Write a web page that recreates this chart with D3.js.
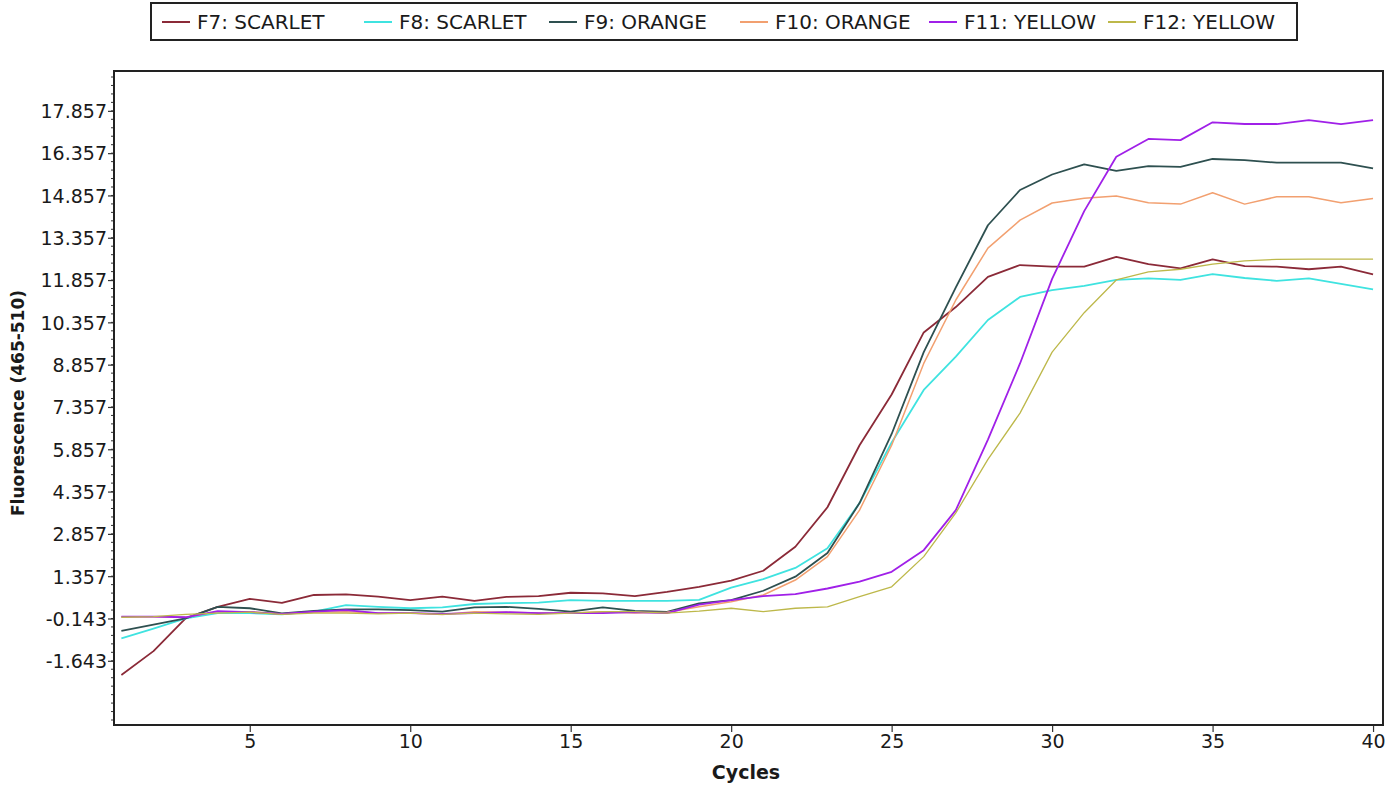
<!DOCTYPE html>
<html>
<head>
<meta charset="utf-8">
<script src="https://cdn.jsdelivr.net/npm/d3@7"></script>
<style>
  html, body { margin: 0; padding: 0; background: #ffffff; }
  svg { display: block; }
  text { font-family: "DejaVu Sans", "Liberation Sans", sans-serif; fill: #1a1a1a; }
</style>
</head>
<body>
<svg id="chart" width="1398" height="787"></svg>
<script>
// ---------- data ----------
const cycles = d3.range(1, 41);

const seriesNames = ["F7: SCARLET", "F8: SCARLET", "F9: ORANGE", "F10: ORANGE", "F11: YELLOW", "F12: YELLOW"];
const seriesColors = ["#8b2a38", "#3fe3e0", "#2e5050", "#f2a070", "#a020e8", "#bdb84a"];

const f7 = [-2.15, -1.30, -0.14, 0.27, 0.55, 0.41, 0.69, 0.71, 0.63, 0.51,
            0.63, 0.48, 0.62, 0.65, 0.77, 0.75, 0.65, 0.80, 0.98, 1.20,
            1.55, 2.40, 3.80, 6.00, 7.80, 10.00, 10.90, 11.97, 12.39, 12.33,
            12.33, 12.68, 12.42, 12.27, 12.59, 12.35, 12.33, 12.24, 12.33, 12.06];
const f8 = [-0.85, -0.50, -0.14, 0.05, 0.05, 0.00, 0.10, 0.33, 0.27, 0.22,
            0.25, 0.37, 0.40, 0.42, 0.51, 0.48, 0.48, 0.48, 0.52, 0.95,
            1.25, 1.65, 2.35, 3.95, 6.10, 7.96, 9.14, 10.44, 11.26, 11.50,
            11.65, 11.86, 11.92, 11.86, 12.07, 11.93, 11.83, 11.92, 11.72, 11.53];
const f9 = [-0.58, -0.36, -0.14, 0.27, 0.22, 0.04, 0.13, 0.18, 0.18, 0.15,
            0.10, 0.25, 0.27, 0.20, 0.10, 0.25, 0.13, 0.09, 0.39, 0.51,
            0.84, 1.34, 2.18, 3.95, 6.40, 9.30, 11.60, 13.80, 15.05, 15.60,
            15.96, 15.73, 15.90, 15.87, 16.15, 16.11, 16.02, 16.02, 16.02, 15.82];
const f10 = [-0.08, -0.08, -0.10, 0.10, 0.10, 0.02, 0.08, 0.10, 0.05, 0.05,
             0.00, 0.10, 0.08, 0.05, 0.05, 0.10, 0.05, 0.08, 0.27, 0.45,
             0.69, 1.22, 2.05, 3.70, 6.00, 8.90, 11.15, 12.99, 13.98, 14.59,
             14.76, 14.84, 14.60, 14.55, 14.95, 14.55, 14.81, 14.81, 14.60, 14.75];
const f11 = [-0.08, -0.08, -0.10, 0.12, 0.08, 0.02, 0.10, 0.15, 0.05, 0.05,
             0.02, 0.05, 0.08, 0.05, 0.05, 0.05, 0.08, 0.05, 0.35, 0.51,
             0.65, 0.72, 0.92, 1.16, 1.51, 2.28, 3.70, 6.20, 8.90, 11.90,
             14.30, 16.23, 16.86, 16.82, 17.45, 17.39, 17.39, 17.53, 17.39, 17.53];
const f12 = [-0.10, -0.08, 0.00, 0.05, 0.08, 0.00, 0.05, 0.05, 0.02, 0.05,
             0.00, 0.05, 0.02, 0.00, 0.05, 0.10, 0.10, 0.05, 0.12, 0.22,
             0.10, 0.22, 0.27, 0.63, 0.98, 2.05, 3.60, 5.50, 7.14, 9.30,
             10.70, 11.86, 12.15, 12.24, 12.42, 12.54, 12.59, 12.60, 12.60, 12.60];
const seriesValues = [f7, f8, f9, f10, f11, f12];

const xTicks = [5, 10, 15, 20, 25, 30, 35, 40];
const yTicks = [-1.643, -0.143, 1.357, 2.857, 4.357, 5.857, 7.357, 8.857, 10.357, 11.857, 13.357, 14.857, 16.357, 17.857];
const yTickLabels = ["-1.643", "-0.143", "1.357", "2.857", "4.357", "5.857", "7.357", "8.857", "10.357", "11.857", "13.357", "14.857", "16.357", "17.857"];

// ---------- layout ----------
const svg = d3.select("#chart");
const plot = { left: 114, top: 71, right: 1383, bottom: 725 };

const x = d3.scaleLinear().domain([0.77, 40.31]).range([plot.left, plot.right]);
const y = d3.scaleLinear().domain([-3.92, 19.27]).range([plot.bottom, plot.top]);

// clip
svg.append("defs").append("clipPath").attr("id", "clip")
  .append("rect").attr("x", plot.left).attr("y", plot.top)
  .attr("width", plot.right - plot.left).attr("height", plot.bottom - plot.top);

// minor y ticks
const minorY = [];
for (let v = -1.643 - 0.3 * 7; v <= 19.3; v += 0.3) {
  const r = Math.round(v * 1000) / 1000;
  if (r >= -3.92 && r <= 19.27) minorY.push(r);
}
svg.append("g").selectAll("line").data(minorY).join("line")
  .attr("x1", plot.left - 3).attr("x2", plot.left)
  .attr("y1", d => y(d)).attr("y2", d => y(d))
  .attr("stroke", "#333").attr("stroke-width", 1);

// y axis
const yAxis = d3.axisLeft(y).tickValues(yTicks)
  .tickFormat((d, i) => yTickLabels[i]).tickSize(6).tickPadding(1);
const gy = svg.append("g").attr("transform", `translate(${plot.left},0)`).call(yAxis);
gy.select(".domain").remove();
gy.selectAll(".tick line").attr("stroke", "#333").attr("stroke-width", 1.2);
gy.selectAll(".tick text").attr("font-size", 19).attr("font-family", "DejaVu Sans").attr("fill", "#1a1a1a").attr("dy", "0.36em");

// x axis
const xAxis = d3.axisBottom(x).tickValues(xTicks).tickFormat(d3.format("d")).tickSize(7).tickPadding(3);
const gx = svg.append("g").attr("transform", `translate(0,${plot.bottom})`).call(xAxis);
gx.select(".domain").remove();
gx.selectAll(".tick line").attr("stroke", "#333").attr("stroke-width", 1.2);
gx.selectAll(".tick text").attr("font-size", 19).attr("font-family", "DejaVu Sans").attr("fill", "#1a1a1a");

// lines
const line = d3.line().x((d, i) => x(cycles[i])).y(d => y(d));
const gLines = svg.append("g").attr("clip-path", "url(#clip)");
const widths = [1.8, 1.8, 1.8, 1.5, 1.8, 1.3];
seriesValues.forEach((vals, k) => {
  gLines.append("path").datum(vals)
    .attr("d", line).attr("fill", "none")
    .attr("stroke", seriesColors[k]).attr("stroke-width", widths[k])
    .attr("stroke-linejoin", "round");
});

// plot frame
svg.append("rect").attr("x", plot.left).attr("y", plot.top)
  .attr("width", plot.right - plot.left).attr("height", plot.bottom - plot.top)
  .attr("fill", "none").attr("stroke", "#222").attr("stroke-width", 2);

// axis titles
svg.append("text").attr("transform", `translate(24,403) rotate(-90)`)
  .attr("text-anchor", "middle").attr("font-size", 17).attr("font-weight", "bold")
  .text("Fluorescence (465-510)");
svg.append("text").attr("x", 746).attr("y", 779)
  .attr("text-anchor", "middle").attr("font-size", 19).attr("font-weight", "bold")
  .text("Cycles");

// legend
const legendX = [162, 364, 549, 740, 929, 1108];
svg.append("rect").attr("x", 151).attr("y", 3).attr("width", 1146).attr("height", 37)
  .attr("fill", "#fff").attr("stroke", "#222").attr("stroke-width", 2);
const lg = svg.append("g").selectAll("g").data(seriesNames).join("g")
  .attr("transform", (d, i) => `translate(${legendX[i]},22)`);
lg.append("line").attr("x1", 0).attr("x2", 28).attr("y1", 0).attr("y2", 0)
  .attr("stroke", (d, i) => seriesColors[i]).attr("stroke-width", 2);
lg.append("text").attr("x", 35).attr("y", 0).attr("dy", "0.36em")
  .attr("font-size", 20).text(d => d);
</script>
</body>
</html>
